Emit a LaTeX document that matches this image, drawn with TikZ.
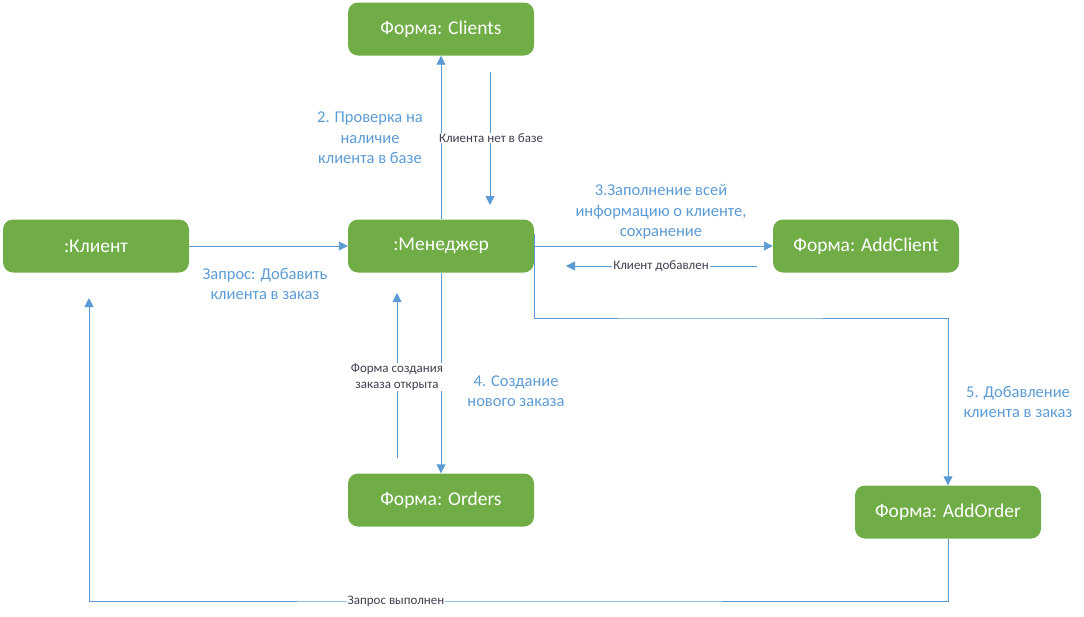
\documentclass[tikz,border=0pt]{standalone}
\usepackage{fontspec}
\setmainfont{Carlito}
\usetikzlibrary{arrows.meta}
\definecolor{formgreen}{RGB}{112,173,71}
\definecolor{linkblue}{RGB}{91,155,213}
\definecolor{notegray}{RGB}{64,64,80}
\begin{document}
\begin{tikzpicture}[x=1pt,y=1pt,yscale=-1,
  form/.style={fill=formgreen,rounded corners=10pt,minimum width=186pt,minimum height=53pt,
    inner sep=0pt,text=white,font=\fontsize{19.5}{22}\selectfont},
  conn/.style={draw=linkblue,line width=0.9pt,-{Triangle[width=9pt,length=9pt]}},
  step label/.style={text=linkblue,align=center,inner sep=1pt,font=\fontsize{16.5}{20.5}\selectfont},
  msg label/.style={text=notegray,fill=white,align=center,inner sep=1pt,font=\fontsize{13}{16}\selectfont}]
\useasboundingbox (0,0) rectangle (1084,616);
% Forms
\node[form] (client) at (96,246) {:Клиент};
\node[form] (manager) at (441,246) {:Менеджер};
\node[form] (clients) at (441,29) {Форма: Clients};
\node[form] (addclient) at (866,246) {Форма: AddClient};
\node[form] (orders) at (441,500) {Форма: Orders};
\node[form] (addorder) at (948,512) {Форма: AddOrder};
% Free ends of the return arrows
\coordinate (nobasetop) at (490,72);
\coordinate (nobaseend) at (490,205);
\coordinate (addedtop) at (757,266);
\coordinate (addedend) at (566,266);
\coordinate (openbottom) at (397,458);
\coordinate (openend) at (397,293);
\coordinate (bendright) at (700,318);
\coordinate (bendbottom) at (500,601);
\coordinate (doneend) at (89,298);
% Connectors
\draw[conn] (client) -- (manager);
\draw[conn] (manager) -- (clients);
\draw[conn] (manager) -- (addclient);
\draw[conn] (manager) -- (orders);
\draw[conn] (nobasetop) -- (nobaseend);
\draw[conn] (addedtop) -- (addedend);
\draw[conn] (openbottom) -- (openend);
\draw[conn] ([yshift=-12pt]manager.east) |- (bendright) -| (addorder.north);
\draw[conn] (addorder.south) |- (bendbottom) -| (doneend);
% Step labels
\node[step label] (ask) at (265,284) {Запрос: Добавить\\клиента в заказ};
\node[step label] (check) at (370,138) {2. Проверка на\\наличие\\клиента в базе};
\node[step label] (fill) at (661,212) {3.Заполнение всей\\информацию о клиенте,\\сохранение};
\node[step label] (create) at (516,391) {4. Создание\\нового заказа};
\node[step label] (add) at (1018,402) {5. Добавление\\клиента в заказ};
% Message labels
\node[msg label] (nobase) at (491,138) {Клиента нет в базе};
\node[msg label] (added) at (661,266) {Клиент добавлен};
\node[msg label] (opened) at (397,377) {Форма создания\\заказа открыта};
\node[msg label] (done) at (396,601) {Запрос выполнен};
\end{tikzpicture}
\end{document}
